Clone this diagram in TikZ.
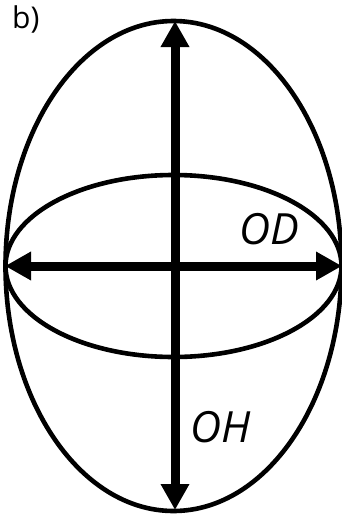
\documentclass[tikz,border=0pt]{standalone}
\usepackage{fontspec}
\setmainfont{Open Sans}
\usetikzlibrary{arrows.meta}
\begin{document}
\begin{tikzpicture}[x=1pt,y=-1pt,
  outline/.style={line width=4.6pt},
  axis/.style={line width=9pt,{Triangle[length=26pt,width=27pt]}-{Triangle[length=26pt,width=27pt]},shorten <=-1pt,shorten >=-1pt},
  lbl/.style={inner sep=0pt,font=\fontsize{43}{43}\selectfont\itshape}]
\useasboundingbox (0,0) rectangle (341,514);
\coordinate (c) at (173.5,266);
\draw[outline] (c) ellipse [x radius=168, y radius=245];
\draw[outline] (c) ellipse [x radius=168, y radius=91];
\coordinate (top) at (175,22);
\coordinate (bot) at (175,509);
\coordinate (lft) at (6,266);
\coordinate (rgt) at (341,266);
\draw[axis] (top) -- (bot);
\draw[axis] (lft) -- (rgt);
\node[lbl] (od) at (269,229) {OD};
\node[lbl] (oh) at (221,427) {OH};
\node[inner sep=0pt,anchor=north west,font=\fontsize{30}{30}\selectfont] (b) at (12,6) {b)};
\end{tikzpicture}
\end{document}
